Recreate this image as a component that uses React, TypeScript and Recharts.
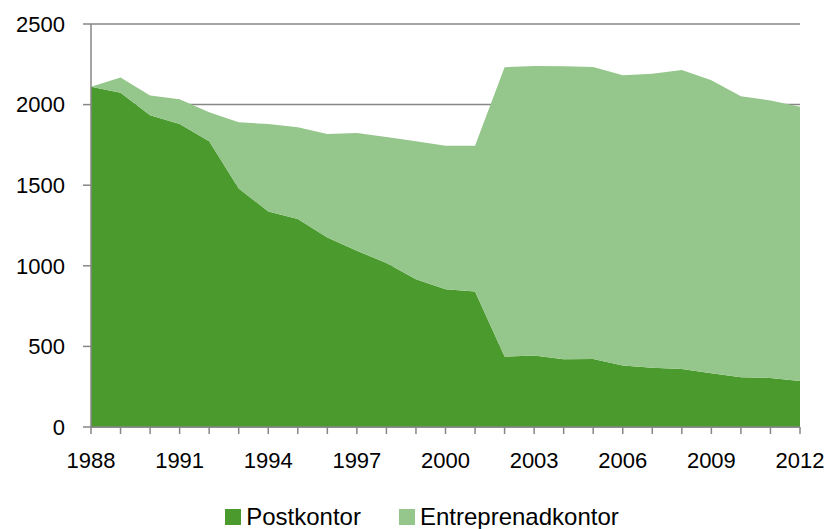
import { AreaChart, Area, CartesianGrid, XAxis, YAxis, Legend } from 'recharts';

const years = [
  1988, 1989, 1990, 1991, 1992, 1993, 1994, 1995, 1996, 1997, 1998, 1999,
  2000, 2001, 2002, 2003, 2004, 2005, 2006, 2007, 2008, 2009, 2010, 2011, 2012,
];

// Postkontor (bottom layer)
const postkontor = [
  2110, 2073, 1934, 1880, 1772, 1480, 1337, 1290, 1176, 1093, 1017, 917,
  855, 840, 437, 443, 420, 422, 381, 368, 360, 333, 309, 304, 286,
];

// Entreprenadkontor (stacked on top)
const entreprenadkontor = [
  0, 95, 122, 153, 180, 410, 543, 569, 642, 731, 782, 855,
  890, 905, 1795, 1797, 1818, 1812, 1801, 1823, 1855, 1818, 1743, 1721, 1700,
];

const yTicks = [0, 500, 1000, 1500, 2000, 2500];

const legendItems = [
  { name: 'Postkontor', color: '#4B9A2D' },
  { name: 'Entreprenadkontor', color: '#95C68B' },
];

const data = years.map((year, i) => ({
  year,
  Postkontor: postkontor[i],
  Entreprenadkontor: entreprenadkontor[i],
}));

const font = '"Liberation Sans", Arial, sans-serif';
const axisColor = '#868686';

const YearTick = (props: any) => {
  const { x, y, payload } = props;
  if ((payload.value - 1988) % 3 !== 0) return null;
  return (
    <text x={x} y={y} dy="0.71em" textAnchor="middle" fill="#000" fontSize={22} fontFamily={font}>
      {payload.value}
    </text>
  );
};

const LegendContent = () => (
  <div
    style={{
      display: 'flex',
      justifyContent: 'center',
      alignItems: 'center',
      gap: 38,
      paddingTop: 16,
      paddingLeft: 44,
      fontFamily: font,
      fontSize: 24,
      color: '#000',
    }}
  >
    {legendItems.map((item) => (
      <div key={item.name} style={{ display: 'flex', alignItems: 'center' }}>
        <span style={{ width: 16, height: 16, background: item.color, marginRight: 5 }} />
        <span>{item.name}</span>
      </div>
    ))}
  </div>
);

export default function App() {
  return (
    <div style={{ width: 827, height: 529, background: '#fff' }}>
      <style>{`body{margin:0}`}</style>
      <AreaChart
        width={827}
        height={529}
        data={data}
        margin={{ top: 24, right: 27, left: 0, bottom: 2 }}
      >
        <CartesianGrid horizontal vertical={false} stroke={axisColor} strokeWidth={1.5} />
        <XAxis
          dataKey="year"
          interval={0}
          height={60}
          tick={<YearTick />}
          tickSize={7}
          tickMargin={18}
          axisLine={{ stroke: axisColor, strokeWidth: 1.5 }}
          tickLine={{ stroke: axisColor, strokeWidth: 1.5 }}
        />
        <YAxis
          width={91}
          domain={[0, 2500]}
          ticks={yTicks}
          tickSize={8}
          tickMargin={18}
          axisLine={{ stroke: axisColor, strokeWidth: 1.5 }}
          tickLine={{ stroke: axisColor, strokeWidth: 1.5 }}
          tick={{ fill: '#000', fontSize: 22, fontFamily: font }}
        />
        <Legend verticalAlign="bottom" align="center" height={40} content={<LegendContent />} />
        <Area
          type="linear"
          dataKey="Postkontor"
          stackId="1"
          stroke="none"
          fill="#4B9A2D"
          fillOpacity={1}
          isAnimationActive={false}
        />
        <Area
          type="linear"
          dataKey="Entreprenadkontor"
          stackId="1"
          stroke="none"
          fill="#95C68B"
          fillOpacity={1}
          isAnimationActive={false}
        />
      </AreaChart>
    </div>
  );
}
